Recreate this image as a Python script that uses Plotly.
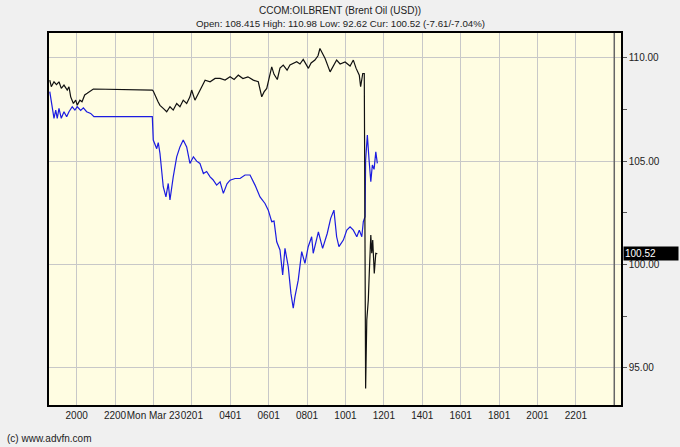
import plotly.graph_objects as go

# hours counted from Sun Mar 22 00:00
black_t = [18.60, 18.68, 18.82, 18.95, 19.08, 19.20, 19.34, 19.51, 19.60, 19.69,
           19.83, 19.95, 20.03, 20.17, 20.28, 20.42, 20.55, 20.73, 20.87, 23.94,
           23.99, 24.24, 24.34, 24.51, 24.69, 24.86, 25.03, 25.21, 25.38, 25.55,
           25.73, 25.90, 25.99, 26.16, 26.34, 26.51, 26.69, 26.95, 27.21, 27.47,
           27.73, 27.99, 28.20, 28.42, 28.66, 28.92, 29.20, 29.46, 29.64, 29.76,
           29.90, 30.16, 30.28, 30.45, 30.59, 30.76, 30.96, 31.11, 31.46, 31.63,
           31.80, 32.07, 32.21, 32.41, 32.57, 32.67, 32.83, 32.94, 33.20, 33.35,
           33.54, 33.72, 33.98, 34.24, 34.41, 34.55, 34.72, 34.79, 34.90, 34.98,
           35.05, 35.11, 35.19, 35.24, 35.32, 35.37, 35.42, 35.50, 35.58, 35.66]
black_v = [108.92, 108.60, 108.84, 108.70, 108.84, 108.52, 108.68, 108.44, 108.60, 108.11,
           107.79, 107.95, 107.71, 107.95, 107.87, 108.20, 108.28, 108.39, 108.49, 108.44,
           108.39, 107.87, 107.70, 107.55, 107.39, 107.63, 107.47, 107.79, 107.63, 107.95,
           107.79, 108.11, 108.44, 107.95, 108.28, 108.60, 108.92, 108.84, 109.00, 109.00,
           108.92, 109.08, 108.95, 109.16, 109.00, 109.08, 108.92, 108.84, 108.11, 108.35,
           108.52, 109.56, 109.20, 108.95, 109.50, 109.65, 109.40, 109.65, 109.81, 109.70,
           109.92, 109.49, 109.75, 109.89, 110.10, 110.45, 110.20, 109.97, 109.32, 109.60,
           109.89, 109.70, 109.80, 109.60, 109.89, 109.50, 109.16, 108.60, 109.24, 109.24,
           94.00, 97.31, 98.28, 99.57, 101.42, 100.54, 101.18, 99.57, 100.54, 100.52]

blue_t = [18.60, 18.73, 18.82, 18.91, 18.99, 19.08, 19.20, 19.34, 19.48, 19.60,
          19.77, 19.91, 20.03, 20.21, 20.35, 20.52, 20.73, 20.90, 23.94, 23.99,
          24.17, 24.25, 24.34, 24.51, 24.65, 24.77, 24.86, 25.03, 25.21, 25.38,
          25.55, 25.73, 25.90, 26.08, 26.25, 26.42, 26.60, 26.77, 26.95, 27.10,
          27.29, 27.47, 27.64, 27.83, 27.99, 28.25, 28.51, 28.77, 29.03, 29.29,
          29.55, 29.81, 29.98, 30.16, 30.28, 30.42, 30.59, 30.73, 30.85, 31.02,
          31.16, 31.28, 31.37, 31.54, 31.72, 31.89, 32.06, 32.24, 32.32, 32.59,
          32.81, 33.05, 33.23, 33.40, 33.54, 33.66, 33.89, 34.07, 34.24, 34.41,
          34.59, 34.72, 34.85, 34.93, 35.02, 35.05, 35.14, 35.23, 35.32, 35.40,
          35.49, 35.58, 35.66]
blue_v = [108.36, 107.71, 107.07, 107.47, 107.07, 107.55, 107.07, 107.39, 107.15, 107.39,
          107.63, 107.47, 107.63, 107.45, 107.58, 107.39, 107.31, 107.15, 107.15, 106.02,
          105.60, 105.90, 105.37, 103.76, 103.27, 103.92, 103.12, 104.24, 105.21, 105.69,
          106.02, 105.69, 104.89, 105.21, 105.00, 104.89, 104.40, 104.50, 104.24, 104.10,
          103.84, 104.00, 103.44, 103.90, 104.08, 104.16, 104.16, 104.33, 104.33, 103.84,
          103.27, 102.95, 102.63, 102.07, 102.10, 101.10, 100.70, 99.49, 100.78, 99.89,
          98.60, 97.88, 98.44, 99.24, 100.62, 100.05, 100.86, 101.34, 100.54, 101.58,
          100.78, 101.50, 102.23, 102.63, 101.34, 100.86, 101.18, 101.66, 101.82, 101.66,
          101.34, 101.66, 101.34, 102.07, 102.31, 105.05, 106.26, 105.05, 104.00, 104.81,
          104.60, 105.45, 104.89]

tick_hours = [20, 22, 24, 26, 28, 30, 32, 34, 36, 38, 40, 42, 44, 46]
tick_labels = ['2000', '2200', 'Mon Mar 23', '0201', '0401', '0601', '0801',
               '1001', '1201', '1401', '1601', '1801', '2001', '2201']

title = 'CCOM:OILBRENT (Brent Oil (USD))'
subtitle = 'Open: 108.415 High: 110.98 Low: 92.62 Cur: 100.52 (-7.61/-7.04%)'
last_value = 100.52
font = 'Liberation Sans, Arial, sans-serif'

fig = go.Figure()
fig.add_trace(go.Scatter(x=blue_t, y=blue_v, mode='lines',
                         line=dict(color='#1c1ce0', width=1.2)))
fig.add_trace(go.Scatter(x=black_t, y=black_v, mode='lines',
                         line=dict(color='#111111', width=1.2)))

# day separator
fig.add_shape(type='line', x0=48, x1=48, y0=0, y1=1, yref='y domain',
              line=dict(color='#666666', width=1.5))

fig.add_annotation(x=1, xref='paper', y=last_value, yref='y', text=f'{last_value:.2f}',
                   xanchor='left', xshift=2, showarrow=False, bgcolor='black',
                   font=dict(color='white', size=10, family=font), width=52,
                   align='left', borderpad=1)

# two title lines
fig.add_annotation(x=0.5, xref='paper', y=1, yref='paper', yanchor='middle', yshift=23,
                   xshift=5, text=title, showarrow=False,
                   font=dict(size=10, family=font, color='#222222'))
fig.add_annotation(x=0.5, xref='paper', y=1, yref='paper', yanchor='middle', yshift=10,
                   xshift=5, text=subtitle, showarrow=False,
                   font=dict(size=9.7, family=font, color='#222222'))

fig.add_annotation(x=0, xref='paper', xanchor='left', xshift=-44, y=0, yref='paper',
                   yanchor='top', yshift=-26, text='(c) www.advfn.com', showarrow=False,
                   font=dict(size=10, family=font, color='#222222'))

fig.update_layout(
    width=680, height=447,
    margin=dict(l=49, r=59, t=33, b=42, autoexpand=False),
    paper_bgcolor='#f0f0f0', plot_bgcolor='#fffde2',
    showlegend=False,
    font=dict(family=font, size=10, color='#222222'),
)
fig.update_xaxes(range=[18.56, 48.35], tickvals=tick_hours, ticktext=tick_labels,
                 showgrid=True, gridcolor='#c8c8c8', gridwidth=1, zeroline=False,
                 showline=True, linecolor='black', linewidth=1.5, mirror=True,
                 ticks='', tickangle=0, automargin=False, tickfont=dict(size=10))
fig.update_yaxes(side='right', range=[93.2, 111.2], dtick=5, tick0=95, tickformat='.2f',
                 showgrid=True, gridcolor='#c8c8c8', gridwidth=1, zeroline=False,
                 showline=True, linecolor='black', linewidth=1.5, mirror=True,
                 ticks='outside', ticklen=4, tickcolor='#555555', automargin=False,
                 minor=dict(dtick=2.5, ticks='outside', ticklen=4, tickcolor='#555555',
                            showgrid=False),
                 tickfont=dict(size=10))

fig.write_html('out.html', config={'displayModeBar': False},
               post_script="document.body.style.margin='0';"
                           "document.body.style.background='#f0f0f0';")
